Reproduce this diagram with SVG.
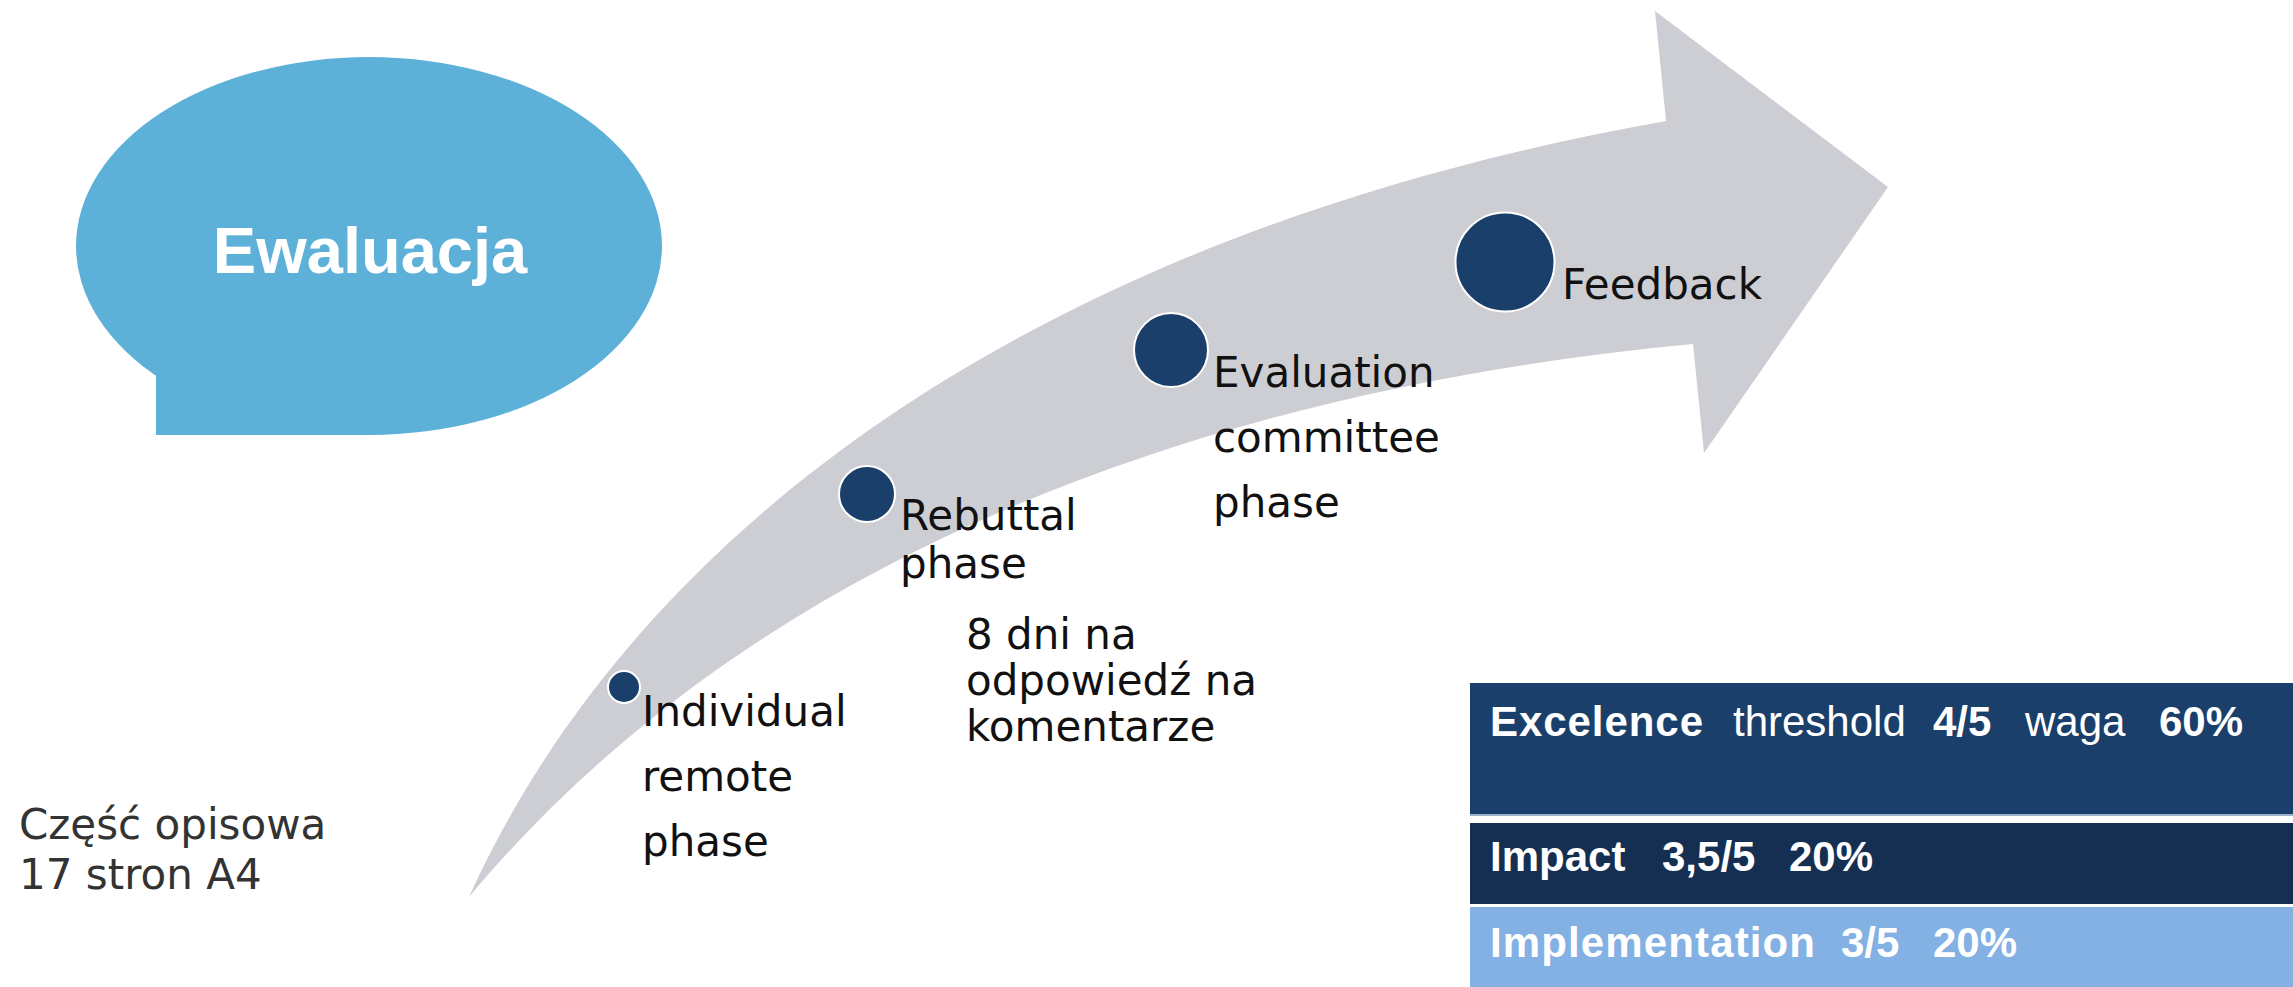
<svg xmlns="http://www.w3.org/2000/svg" width="2293" height="987" viewBox="0 0 2293 987">
<style>
.lbl{font-family:"DejaVu Sans","Liberation Sans",sans-serif;font-size:42px;fill:#111}
.dot{fill:#1A3F6B;stroke:#fff;stroke-width:2}
.box{font-family:"Liberation Sans",Arial,sans-serif;font-size:42px;fill:#fff}
.b{font-weight:bold}
</style>
<rect width="2293" height="987" fill="#fff"/>
<g id="bubble">
<ellipse cx="369" cy="246" rx="293" ry="189" fill="#5DB1D9"/>
<rect x="156" y="376" width="214" height="59" fill="#5DB1D9"/>
<text x="370" y="273" text-anchor="middle" font-family="Liberation Sans, Arial, sans-serif" font-weight="bold" font-size="65" fill="#fff">Ewaluacja</text>
</g>
<g id="arrow">
<path d="M469,897 C640,520 1050,230 1666,121 L1655,11 L1888,187 L1704,453 L1693,344 C1200,390 750,560 469,897 Z" fill="#CDCED3"/>
</g>
<g id="connectors"></g>
<g id="individual">
<circle class="dot" cx="624" cy="687" r="16"/>
<text class="lbl"><tspan x="642" y="726">Individual</tspan><tspan x="642" y="791">remote</tspan><tspan x="642" y="856">phase</tspan></text>
</g>
<g id="rebuttal">
<circle class="dot" cx="867" cy="494" r="28"/>
<text class="lbl"><tspan x="900" y="530">Rebuttal</tspan><tspan x="900" y="578">phase</tspan></text>
</g>
<g id="rebuttal-note">
<text class="lbl"><tspan x="966" y="649">8 dni na</tspan><tspan x="966" y="695">odpowiedź na</tspan><tspan x="966" y="741">komentarze</tspan></text>
</g>
<g id="evaluation">
<circle class="dot" cx="1171" cy="350" r="37"/>
<text class="lbl"><tspan x="1213" y="387">Evaluation</tspan><tspan x="1213" y="452">committee</tspan><tspan x="1213" y="517">phase</tspan></text>
</g>
<g id="feedback">
<circle class="dot" cx="1505" cy="262" r="49.5"/>
<text class="lbl" x="1562" y="299">Feedback</text>
</g>
<g id="opis">
<text class="lbl" style="fill:#333"><tspan x="19" y="839">Część opisowa</tspan><tspan x="19" y="889">17 stron A4</tspan></text>
</g>
<g id="excelence">
<rect x="1470" y="683" width="823" height="132" fill="#1B3F6B"/>
<line x1="1470" y1="815" x2="2293" y2="815" stroke="#9DB3CC" stroke-width="2"/>
<text class="box" y="736"><tspan class="b" x="1490" textLength="213">Excelence</tspan><tspan x="1733">threshold</tspan><tspan class="b" x="1933">4/5</tspan><tspan x="2025">waga</tspan><tspan class="b" x="2159">60%</tspan></text>
</g>
<g id="impact">
<rect x="1470" y="823" width="823" height="81" fill="#142F52"/>
<text class="box b" y="871"><tspan x="1490">Impact</tspan><tspan x="1662">3,5/5</tspan><tspan x="1789">20%</tspan></text>
</g>
<g id="implementation">
<rect x="1470" y="907" width="823" height="80" fill="#83B1E3"/>
<text class="box b" y="957"><tspan x="1490" textLength="325">Implementation</tspan><tspan x="1841">3/5</tspan><tspan x="1933">20%</tspan></text>
</g>
</svg>
